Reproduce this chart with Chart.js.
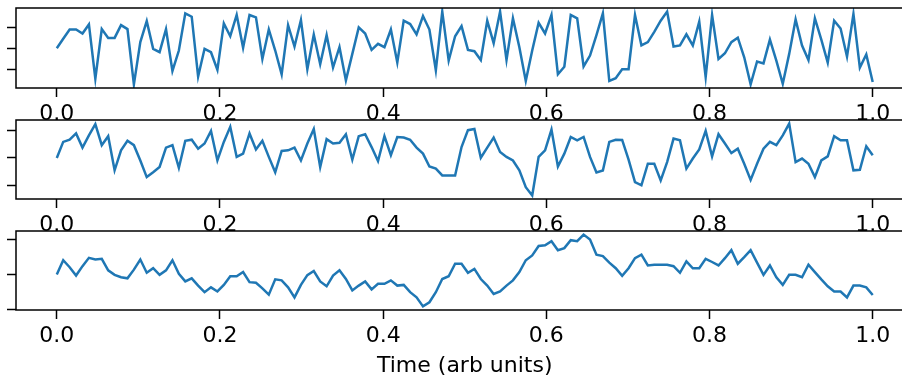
<!DOCTYPE html>
<html lang="en">
<head>
    <meta charset="UTF-8">
    <title>Noise traces</title>
    <script src="https://cdn.jsdelivr.net/npm/chart.js"></script>
    <style>
        html, body {
            margin: 0;
            padding: 0;
            background: #ffffff;
            overflow: hidden;
            width: 902px;
            height: 380px;
        }
        canvas {
            position: absolute;
            left: 0;
        }
        #c1 { top: 0px; }
        #c2 { top: 112px; }
        #c3 { top: 223px; }
    </style>
</head>
<body>
    <canvas id="c1" width="920" height="130"></canvas>
    <canvas id="c2" width="920" height="130"></canvas>
    <canvas id="c3" width="920" height="157"></canvas>

    <script>
        // 128 samples per trace, time runs 0..1
        const sampleCount = 128;
        const xTicks = [0, 0.2, 0.4, 0.6, 0.8, 1.0];
        const yTicks = [-1, 0, 1];
        const xLabel = 'Time (arb units)';

        const whiteNoise = [
            0.03, 0.48, 0.92, 0.92, 0.73, 1.16, -1.42, 0.94, 0.52, 0.52,
            1.13, 0.94, -1.69, 0.32, 1.32, 0.0, -0.16, 0.94, -1.05, -0.08,
            1.69, 1.53, -1.32, 0.0, -0.16, -1.0, 1.21, 0.6, 1.61, 0.05,
            1.61, 1.5, -0.48, 0.92, -0.08, -1.21, 1.13, 0.11, 1.37, -0.97,
            0.68, -0.73, 0.65, -0.89, 0.08, -1.5, -0.24, 1.02, 0.73, -0.05,
            0.24, 0.08, 0.92, -0.65, 1.34, 1.18, 0.69, 1.56, 0.92, -1.02,
            1.77, -0.56, 0.6, 1.08, -0.05, -0.11, -0.53, 1.34, 0.27, 1.77,
            -0.53, 1.45, 0.08, -1.53, -0.08, 1.24, 0.73, 1.61, -1.21, -0.85,
            1.61, 1.45, -0.84, -0.32, 0.65, 1.69, -1.53, -1.4, -0.97, -0.97,
            1.61, 0.16, 0.32, 0.81, 1.34, 1.77, 0.11, 0.16, 0.69, 0.16,
            1.29, -1.34, 1.61, -0.48, -0.21, 0.32, 0.53, -0.4, -1.69, -0.6,
            -0.69, 0.44, -0.56, -1.66, -0.24, 1.4, 0.16, -0.53, 1.45, 0.44,
            -0.65, 1.34, 0.97, -0.37, 1.66, -0.89, -0.27, -1.58
        ];

        const smoothNoise = [
            0.0, 0.59, 0.67, 0.9, 0.38, 0.83, 1.24, 0.47, 0.8, -0.45,
            0.28, 0.63, 0.47, -0.09, -0.7, -0.52, -0.33, 0.38, 0.47, -0.36,
            0.63, 0.67, 0.34, 0.53, 0.99, -0.09, 0.59, 1.14, 0.04, 0.16,
            0.9, 0.31, 0.63, 0.04, -0.52, 0.26, 0.28, 0.38, -0.09, 0.53,
            1.06, -0.33, 0.69, 0.53, 0.56, 0.87, -0.06, 0.8, 0.87, 0.4,
            -0.11, 0.8, 0.1, 0.77, 0.75, 0.67, 0.38, 0.16, -0.31, -0.39,
            -0.64, -0.64, -0.64, 0.4, 1.02, 1.06, 0.01, 0.38, 0.75, 0.22,
            0.04, -0.09, -0.45, -1.07, -1.37, 0.04, 0.28, 1.04, -0.31, 0.16,
            0.77, 0.65, 0.77, 0.04, -0.53, -0.46, 0.59, 0.67, 0.66, -0.06,
            -0.88, -1.0, -0.21, -0.21, -0.82, -0.15, 0.71, 0.65, -0.39, -0.02,
            0.31, 0.99, 0.06, 0.87, 0.53, 0.18, 0.34, -0.21, -0.8, -0.21,
            0.34, 0.59, 0.47, 0.83, 1.26, -0.15, -0.02, -0.21, -0.7, -0.09,
            0.06, 0.8, 0.65, 0.65, -0.45, -0.43, 0.43, 0.1
        ];

        const randomWalk = [
            0.0, 0.41, 0.21, -0.03, 0.24, 0.48, 0.43, 0.45, 0.12, -0.01,
            -0.08, -0.11, 0.14, 0.43, 0.05, 0.18, -0.01, 0.12, 0.41, 0.02,
            -0.2, -0.11, -0.32, -0.51, -0.37, -0.49, -0.3, -0.05, -0.05, 0.07,
            -0.22, -0.24, -0.4, -0.58, -0.14, -0.17, -0.37, -0.66, -0.3, -0.02,
            0.1, -0.2, -0.34, -0.03, 0.12, -0.13, -0.46, -0.32, -0.2, -0.43,
            -0.27, -0.27, -0.17, -0.32, -0.3, -0.51, -0.66, -0.92, -0.8, -0.51,
            -0.13, -0.05, 0.31, 0.31, 0.05, 0.16, -0.13, -0.32, -0.56, -0.49,
            -0.32, -0.17, 0.07, 0.41, 0.55, 0.82, 0.84, 0.96, 0.7, 0.76,
            0.99, 0.96, 1.15, 1.01, 0.57, 0.53, 0.34, 0.18, -0.04, 0.18,
            0.47, 0.57, 0.26, 0.28, 0.28, 0.28, 0.24, 0.05, 0.38, 0.18,
            0.18, 0.45, 0.36, 0.26, 0.47, 0.7, 0.31, 0.5, 0.7, 0.34,
            -0.01, 0.26, -0.08, -0.3, -0.01, -0.01, -0.08, 0.28, 0.07, -0.14,
            -0.34, -0.49, -0.49, -0.66, -0.32, -0.32, -0.37, -0.59
        ];

        const times = Array.from({ length: sampleCount }, (_, i) => i / (sampleCount - 1));

        const FONT = { family: 'DejaVu Sans', size: 22 };
        const TOP_PAD = 8;
        const AXIS_LEFT = 16;
        const AXIS_RIGHT = 913.5;

        // white axes background + black frame, like matplotlib
        const framePlugin = {
            id: 'frame',
            beforeDraw(chart) {
                const { ctx, chartArea: a } = chart;
                ctx.save();
                ctx.fillStyle = '#ffffff';
                ctx.fillRect(a.left, a.top, a.right - a.left, a.bottom - a.top);
                ctx.restore();
            },
            afterDraw(chart) {
                const { ctx, chartArea: a } = chart;
                ctx.save();
                ctx.strokeStyle = '#000000';
                ctx.lineWidth = 1.5;
                ctx.strokeRect(a.left, a.top, a.right - a.left, a.bottom - a.top);
                ctx.restore();
            }
        };

        function limits(values) {
            const lo = Math.min(...values);
            const hi = Math.max(...values);
            const m = (hi - lo) * 0.05;
            return [lo - m, hi + m];
        }

        function makePanel(canvasId, values, boxHeight, withLabel) {
            const canvas = document.getElementById(canvasId);
            const [yMin, yMax] = limits(values);
            return new Chart(canvas.getContext('2d'), {
                type: 'line',
                data: {
                    datasets: [{
                        data: values.map((v, i) => ({ x: times[i], y: v })),
                        borderColor: '#1f77b4',
                        borderWidth: 2.5,
                        pointRadius: 0,
                        tension: 0,
                        fill: false
                    }]
                },
                options: {
                    responsive: false,
                    animation: false,
                    devicePixelRatio: 1,
                    layout: {
                        padding: { top: TOP_PAD, left: 0, right: canvas.width - AXIS_RIGHT, bottom: 0 }
                    },
                    plugins: {
                        legend: { display: false },
                        tooltip: { enabled: false }
                    },
                    scales: {
                        x: {
                            type: 'linear',
                            min: -0.05,
                            max: 1.05,
                            afterBuildTicks: (s) => { s.ticks = xTicks.map(v => ({ value: v })); },
                            afterFit: (s) => { s.height = canvas.height - TOP_PAD - boxHeight; },
                            grid: {
                                drawOnChartArea: false,
                                drawTicks: true,
                                tickLength: 9,
                                tickColor: '#000000',
                                tickWidth: 1.5
                            },
                            border: { display: false },
                            ticks: {
                                color: '#000000',
                                font: FONT,
                                padding: 4,
                                maxRotation: 0,
                                autoSkip: false,
                                callback: (v) => v.toFixed(1)
                            },
                            title: {
                                display: withLabel,
                                text: xLabel,
                                color: '#000000',
                                font: FONT,
                                padding: { top: 0, bottom: 0.5 }
                            }
                        },
                        y: {
                            type: 'linear',
                            min: yMin,
                            max: yMax,
                            afterBuildTicks: (s) => { s.ticks = yTicks.map(v => ({ value: v })); },
                            afterFit: (s) => { s.width = AXIS_LEFT; },
                            grid: {
                                drawOnChartArea: false,
                                drawTicks: true,
                                tickLength: 9,
                                tickColor: '#000000',
                                tickWidth: 1.5
                            },
                            border: { display: false },
                            ticks: { display: false }
                        }
                    }
                },
                plugins: [framePlugin]
            });
        }

        makePanel('c1', whiteNoise, 80, false);
        makePanel('c2', smoothNoise, 79, false);
        makePanel('c3', randomWalk, 79, true);
    </script>
</body>
</html>
